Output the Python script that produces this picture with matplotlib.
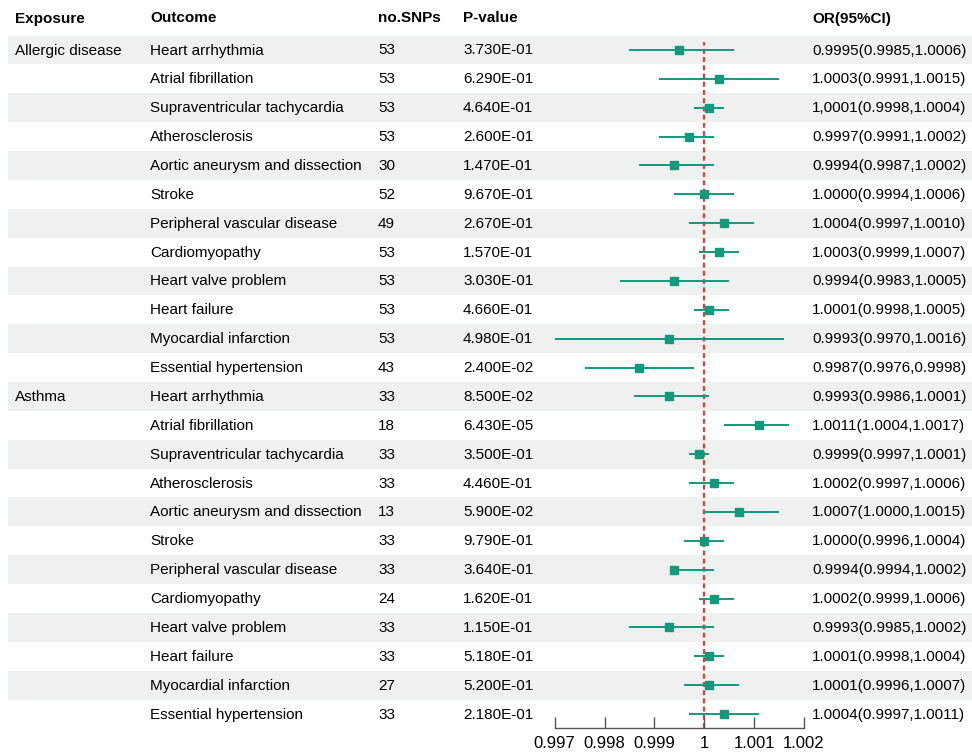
import matplotlib.pyplot as plt
from matplotlib.ticker import FixedLocator

exposures = ["Allergic disease", "Asthma"]
outcomes = [
    "Heart arrhythmia", "Atrial fibrillation", "Supraventricular tachycardia",
    "Atherosclerosis", "Aortic aneurysm and dissection", "Stroke",
    "Peripheral vascular disease", "Cardiomyopathy", "Heart valve problem",
    "Heart failure", "Myocardial infarction", "Essential hypertension",
]
n_snps = [53, 53, 53, 53, 30, 52, 49, 53, 53, 53, 53, 43,
          33, 18, 33, 33, 13, 33, 33, 24, 33, 33, 27, 33]
p_values = ["3.730E-01", "6.290E-01", "4.640E-01", "2.600E-01", "1.470E-01", "9.670E-01",
            "2.670E-01", "1.570E-01", "3.030E-01", "4.660E-01", "4.980E-01", "2.400E-02",
            "8.500E-02", "6.430E-05", "3.500E-01", "4.460E-01", "5.900E-02", "9.790E-01",
            "3.640E-01", "1.620E-01", "1.150E-01", "5.180E-01", "5.200E-01", "2.180E-01"]
or_est = [0.9995, 1.0003, 1.0001, 0.9997, 0.9994, 1.0000, 1.0004, 1.0003, 0.9994, 1.0001, 0.9993, 0.9987,
          0.9993, 1.0011, 0.9999, 1.0002, 1.0007, 1.0000, 0.9994, 1.0002, 0.9993, 1.0001, 1.0001, 1.0004]
or_lo = [0.9985, 0.9991, 0.9998, 0.9991, 0.9987, 0.9994, 0.9997, 0.9999, 0.9983, 0.9998, 0.9970, 0.9976,
         0.9986, 1.0004, 0.9997, 0.9997, 1.0000, 0.9996, 0.9994, 0.9999, 0.9985, 0.9998, 0.9996, 0.9997]
or_hi = [1.0006, 1.0015, 1.0004, 1.0002, 1.0002, 1.0006, 1.0010, 1.0007, 1.0005, 1.0005, 1.0016, 0.9998,
         1.0001, 1.0017, 1.0001, 1.0006, 1.0015, 1.0004, 1.0002, 1.0006, 1.0002, 1.0004, 1.0007, 1.0011]
x_ticks = [0.997, 0.998, 0.999, 1.0, 1.001, 1.002]
x_tick_labels = ["0.997", "0.998", "0.999", "1", "1.001", "1.002"]


def main() -> None:
    plt.rcParams["font.family"] = ["Liberation Sans", "DejaVu Sans"]
    plt.rcParams["font.size"] = 11
    W, H = 972, 755
    teal = "#12997B"
    red = "#E8393B"
    shade = "#EEF1EF"

    fig = plt.figure(figsize=(W / 100, H / 100), dpi=100)
    fig.set_facecolor("white")

    # table layer in pixel units
    bg = fig.add_axes([0, 0, 1, 1])
    bg.set_xlim(0, W)
    bg.set_ylim(H, 0)
    bg.axis("off")

    n = len(n_snps)
    y0, dy = 50.0, 28.87
    rows = [y0 + i * dy for i in range(n)]

    for i, y in enumerate(rows):
        if i % 2 == 0:
            bg.axhspan(y - dy / 2, y + dy / 2, xmin=8 / W, xmax=1, color=shade, lw=0, zorder=0)

    hy = 18.5
    for x, s in [(15, "Exposure"), (150, "Outcome"), (378, "no.SNPs"),
                 (463, "P-value"), (812, "OR(95%CI)")]:
        bg.text(x, hy, s, fontweight="bold", va="center", ha="left")

    or_text = [f"{m:.4f}({l:.4f},{h:.4f})" for m, l, h in zip(or_est, or_lo, or_hi)]
    or_text[2] = or_text[2].replace(".", ",", 1)

    per = len(outcomes)
    for i, y in enumerate(rows):
        ty = y + 0.5
        if i % per == 0:
            bg.text(15, ty, exposures[i // per], va="center", ha="left")
        bg.text(150, ty, outcomes[i % per], va="center", ha="left")
        bg.text(378, ty, str(n_snps[i]), va="center", ha="left")
        bg.text(463, ty, p_values[i], va="center", ha="left")
        bg.text(812, ty, or_text[i], va="center", ha="left")

    # forest panel
    left_px, right_px = 554.7, 804.0
    top_px, bottom_px = y0 - dy / 2, 728.0
    ax = fig.add_axes([left_px / W, 1 - bottom_px / H,
                       (right_px - left_px) / W, (bottom_px - top_px) / H])
    ax.set_facecolor("none")
    ax.set_xlim(x_ticks[0], x_ticks[-1])
    ax.set_ylim((bottom_px - y0) / dy, -0.5)
    idx = list(range(n))
    ax.hlines(idx, or_lo, or_hi, color=teal, lw=1.4, zorder=2)
    ax.plot(or_est, idx, ls="", marker="s", ms=5.6, color=teal, zorder=3)
    ax.axvline(1.0, ymax=0.99, color=red, ls=(0, (2.2, 1.5)), lw=1.6, zorder=1)

    for side in ["top", "right", "left"]:
        ax.spines[side].set_visible(False)
    ax.spines["bottom"].set_color("#555555")
    ax.spines["bottom"].set_linewidth(1.0)
    ax.set_yticks([])
    ax.xaxis.set_major_locator(FixedLocator(x_ticks))
    ax.set_xticklabels(x_tick_labels)
    ax.tick_params(axis="x", direction="in", length=8, width=1.0, color="#555555",
                   pad=6, labelsize=12)

    fig.savefig("out.png", dpi=100)
    plt.close(fig)


if __name__ == "__main__":
    main()
